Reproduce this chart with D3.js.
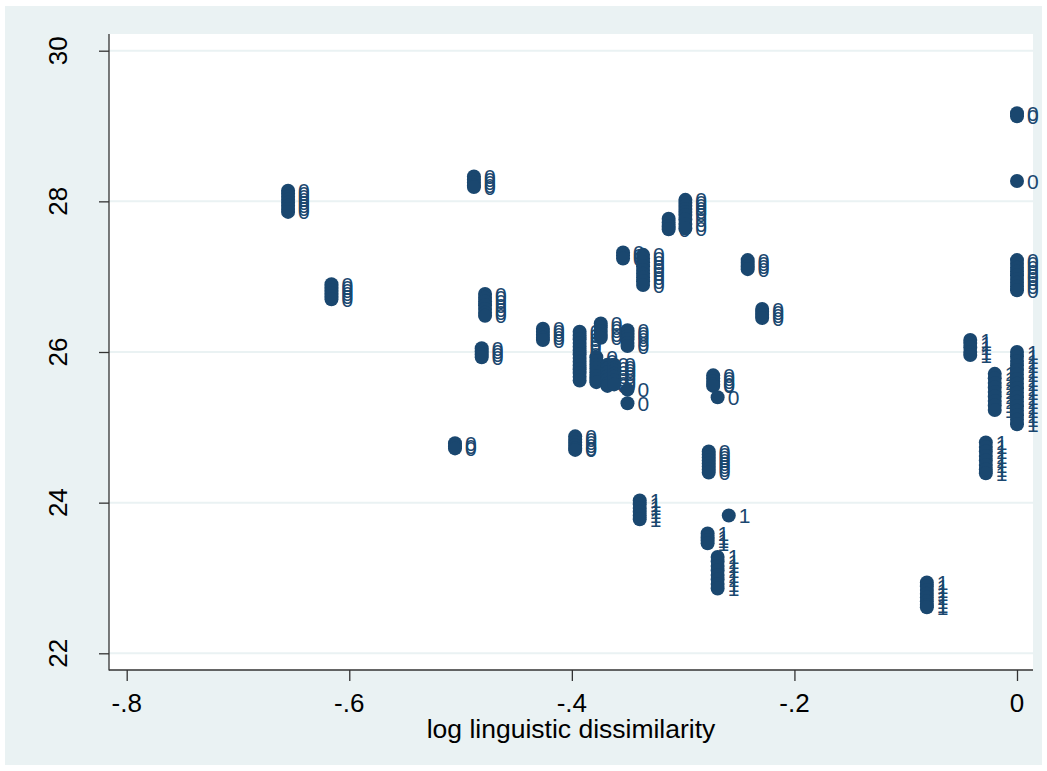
<!DOCTYPE html>
<html>
<head>
<meta charset="utf-8">
<script src="https://cdn.jsdelivr.net/npm/d3@7"></script>
<style>
  body { margin: 0; background: white; }
  text { font-family: "Liberation Sans", Arial, sans-serif; }
</style>
</head>
<body>
<script>
const w = 1047;
const h = 771;
const navy = "#1a476f";
const bgColor = "#eaf2f3";

// groups of observations: x value, marker label and the y values in the column
const groupX = [-0.655, -0.616, -0.488, -0.478, -0.481, -0.426, -0.505, -0.397,
  -0.393, -0.374, -0.378, -0.368, -0.362, -0.350, -0.350, -0.354, -0.336, -0.313,
  -0.298, -0.273, -0.269, -0.242, -0.229, 0, 0, 0, -0.277,
  -0.339, -0.259, -0.278, -0.269, -0.042, -0.020, 0, -0.028, -0.081];
const groupLabel = ["0", "0", "0", "0", "0", "0", "0", "0",
  "0", "0", "0", "0", "0", "0", "0", "0", "0", "0",
  "0", "0", "0", "0", "0", "0", "0", "0", "0",
  "1", "1", "1", "1", "1", "1", "1", "1", "1"];
const groupY = [
  [28.14, 28.10, 28.06, 28.02, 27.98, 27.94, 27.90, 27.86],
  [26.90, 26.86, 26.82, 26.78, 26.74, 26.70],
  [28.33, 28.29, 28.25, 28.21, 28.19],
  [26.77, 26.72, 26.67, 26.62, 26.57, 26.52, 26.48],
  [26.05, 26.01, 25.97, 25.93],
  [26.31, 26.27, 26.23, 26.19, 26.16],
  [24.79, 24.75, 24.72],
  [24.88, 24.84, 24.80, 24.76, 24.72, 24.70],
  [26.27, 26.22, 26.17, 26.12, 26.07, 26.02, 25.97, 25.92, 25.87, 25.82, 25.77, 25.72, 25.67, 25.62],
  [26.38, 26.33, 26.28, 26.23, 26.19],
  [25.93, 25.88, 25.83, 25.78, 25.73, 25.68, 25.64, 25.60],
  [25.83, 25.78, 25.73, 25.68, 25.63, 25.58, 25.55],
  [25.83, 25.79, 25.75, 25.71, 25.67, 25.62, 25.57],
  [26.29, 26.25, 26.21, 26.17, 26.12, 26.08],
  [25.50, 25.32],
  [27.32, 27.28, 27.24],
  [27.29, 27.24, 27.19, 27.14, 27.09, 27.04, 26.99, 26.94, 26.89],
  [27.77, 27.72, 27.67, 27.63],
  [28.02, 27.98, 27.94, 27.90, 27.86, 27.82, 27.76, 27.70, 27.64],
  [25.69, 25.65, 25.61, 25.57, 25.55],
  [25.40],
  [27.22, 27.18, 27.14, 27.10],
  [26.57, 26.53, 26.49, 26.45],
  [29.17, 29.13],
  [28.27],
  [27.22, 27.17, 27.12, 27.07, 27.02, 26.97, 26.92, 26.87, 26.82],
  [24.68, 24.64, 24.60, 24.56, 24.52, 24.48, 24.44, 24.40],
  [24.03, 23.98, 23.93, 23.88, 23.83, 23.78],
  [23.83],
  [23.59, 23.54, 23.50, 23.46],
  [23.28, 23.22, 23.16, 23.10, 23.04, 22.98, 22.92, 22.86],
  [26.16, 26.12, 26.06, 26.00, 25.96],
  [25.71, 25.65, 25.59, 25.53, 25.47, 25.41, 25.35, 25.29, 25.23],
  [26.00, 25.94, 25.88, 25.82, 25.76, 25.70, 25.64, 25.58, 25.52, 25.46, 25.40, 25.34, 25.28, 25.22, 25.16, 25.10, 25.04],
  [24.80, 24.74, 24.68, 24.62, 24.56, 24.50, 24.44, 24.39],
  [22.94, 22.89, 22.84, 22.79, 22.74, 22.69, 22.64, 22.61]
];

const xTicks = [-0.8, -0.6, -0.4, -0.2, 0];
const xTickLabels = ["-.8", "-.6", "-.4", "-.2", "0"];
const yTicks = [22, 24, 26, 28, 30];
const xTitle = "log linguistic dissimilarity";

const points = [];
groupY.forEach((ys, i) => ys.forEach(y => points.push({x: groupX[i], y: y, label: groupLabel[i]})));

const plot = {left: 109, right: 1033, top: 34, bottom: 670};

const svg = d3.select("body")
  .append("svg")
  .attr("width", w)
  .attr("height", h);

svg.append("rect")
  .attr("x", 5).attr("y", 6)
  .attr("width", 1037).attr("height", 759)
  .attr("fill", bgColor);

svg.append("rect")
  .attr("x", plot.left).attr("y", plot.top)
  .attr("width", plot.right - plot.left).attr("height", plot.bottom - plot.top)
  .attr("fill", "white");

const xScale = d3.scaleLinear().domain([-0.8, 0]).range([126.7, 1017]);
const yScale = d3.scaleLinear().domain([22, 30]).range([653.3, 50.7]);

// grid lines
svg.selectAll(".grid")
  .data(yTicks)
  .enter()
  .append("line")
  .attr("class", "grid")
  .attr("x1", plot.left).attr("x2", plot.right)
  .attr("y1", d => yScale(d)).attr("y2", d => yScale(d))
  .attr("stroke", bgColor)
  .attr("stroke-width", 2);

// axes
const yAxis = d3.axisLeft(yScale).tickValues(yTicks).tickSize(10).tickFormat("");
const xAxis = d3.axisBottom(xScale).tickValues(xTicks).tickSize(11).tickFormat("");

const gy = svg.append("g").attr("transform", "translate(" + plot.left + ",0)").call(yAxis);
const gx = svg.append("g").attr("transform", "translate(0," + plot.bottom + ")").call(xAxis);
gy.select(".domain").remove();
gx.select(".domain").remove();
svg.selectAll(".tick line").attr("stroke", "#333").attr("stroke-width", 1.3);

svg.append("line")
  .attr("x1", plot.left).attr("x2", plot.left)
  .attr("y1", plot.top).attr("y2", plot.bottom + 0.6)
  .attr("stroke", "#333").attr("stroke-width", 1.3);
svg.append("line")
  .attr("x1", plot.left).attr("x2", plot.right)
  .attr("y1", plot.bottom).attr("y2", plot.bottom)
  .attr("stroke", "#333").attr("stroke-width", 1.3);

svg.selectAll(".ylab")
  .data(yTicks)
  .enter()
  .append("text")
  .attr("class", "ylab")
  .attr("transform", d => "translate(67," + yScale(d) + ") rotate(-90)")
  .attr("text-anchor", "middle")
  .attr("font-size", 26)
  .attr("fill", "#000")
  .text(d => d);

svg.selectAll(".xlab")
  .data(xTicks)
  .enter()
  .append("text")
  .attr("class", "xlab")
  .attr("x", d => xScale(d))
  .attr("y", 712)
  .attr("text-anchor", "middle")
  .attr("font-size", 26)
  .attr("fill", "#000")
  .text((d, i) => xTickLabels[i]);

svg.append("text")
  .attr("x", (plot.left + plot.right) / 2)
  .attr("y", 738)
  .attr("text-anchor", "middle")
  .attr("font-size", 26.5)
  .attr("fill", "#000")
  .text(xTitle);

// markers
svg.selectAll(".dot")
  .data(points)
  .enter()
  .append("circle")
  .attr("class", "dot")
  .attr("cx", d => xScale(d.x))
  .attr("cy", d => yScale(d.y))
  .attr("r", 7)
  .attr("fill", navy);

// marker labels
svg.selectAll(".mlab")
  .data(points)
  .enter()
  .append("text")
  .attr("class", "mlab")
  .attr("x", d => xScale(d.x) + 10)
  .attr("y", d => yScale(d.y))
  .attr("dy", "0.36em")
  .attr("font-size", 21)
  .attr("fill", navy)
  .text(d => d.label);
</script>
</body>
</html>
